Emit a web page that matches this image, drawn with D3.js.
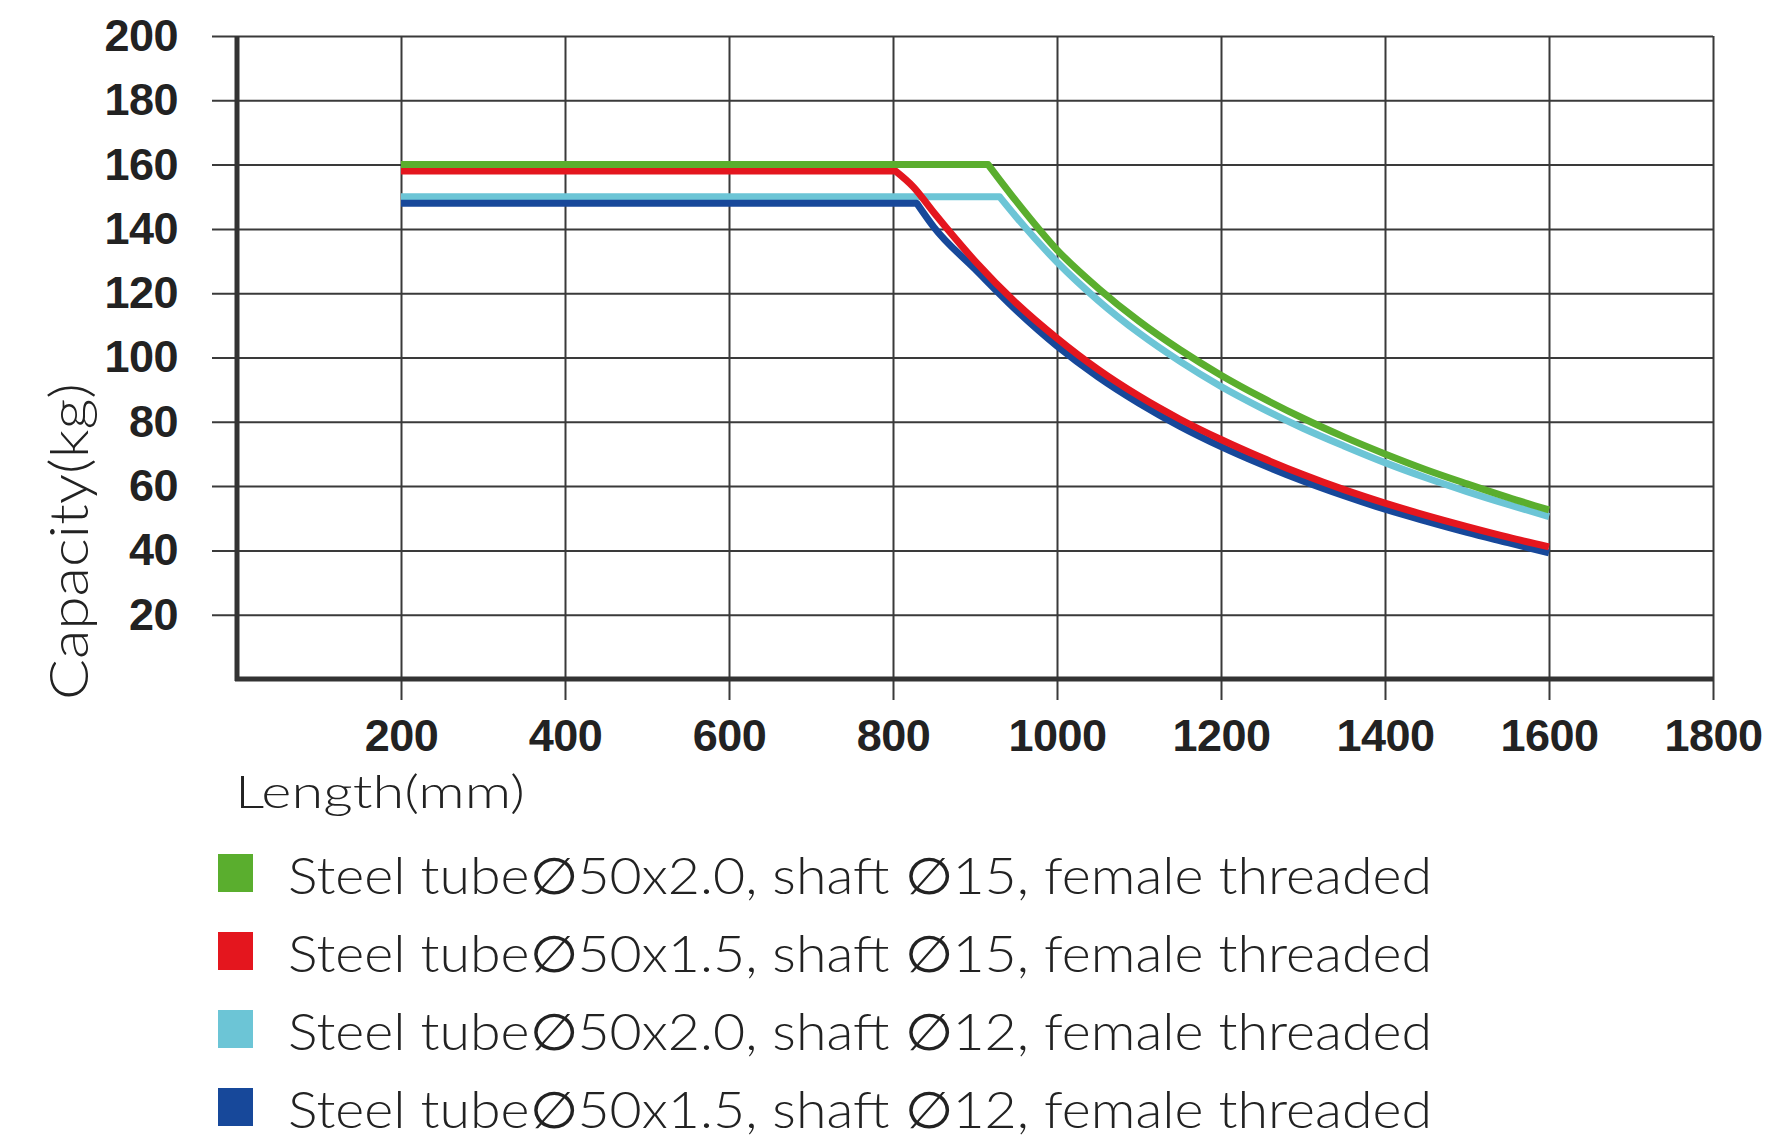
<!DOCTYPE html>
<html>
<head>
<meta charset="utf-8">
<script src="https://cdnjs.cloudflare.com/ajax/libs/d3/7.8.5/d3.min.js"></script>
<style>
  body { margin: 0; background: #fff; }
  .tick text { font-family: "Liberation Sans", Arial, sans-serif; font-weight: bold; fill: #222; }
  .thin { font-family: "Lato", "DejaVu Sans", sans-serif; font-weight: 300; fill: #222; }
</style>
</head>
<body>
<div class="root"></div>
<script>
// lengths in mm, capacity in kg
var lenGreen = [200, 916, 950, 1000, 1050, 1100, 1150, 1200, 1250, 1300, 1350, 1400, 1450, 1500, 1550, 1600];
var capGreen = [160, 160, 148.7, 133.5, 121.6, 111.3, 102.4, 94.5, 87.5, 81.1, 75.3, 70, 65.1, 60.7, 56.5, 52.6];

var lenRed = [200, 803, 825, 850, 900, 950, 1000, 1050, 1100, 1150, 1200, 1250, 1300, 1350, 1400, 1450, 1500, 1550, 1600];
var capRed = [158, 158, 153, 145, 130, 117, 106, 96.3, 88, 80.8, 74.5, 68.8, 63.6, 58.9, 54.7, 50.9, 47.4, 44.1, 41.1];

var lenCyan = [200, 930, 950, 1000, 1050, 1100, 1150, 1200, 1250, 1300, 1350, 1400, 1450, 1500, 1550, 1600];
var capCyan = [150, 150, 143.8, 129.7, 117.8, 107.6, 98.8, 91, 84.2, 78, 72.5, 67.3, 62.6, 58.3, 54.3, 50.5];

var lenBlue = [200, 829, 850, 900, 950, 1000, 1050, 1100, 1150, 1200, 1250, 1300, 1350, 1400, 1450, 1500, 1550, 1600];
var capBlue = [148, 148, 140.5, 127.5, 114.8, 103.6, 94, 85.8, 78.6, 72.3, 66.7, 61.6, 57, 52.8, 49.1, 45.6, 42.4, 39.2];

var xTicks = [200, 400, 600, 800, 1000, 1200, 1400, 1600, 1800];
var yTicks = [20, 40, 60, 80, 100, 120, 140, 160, 180, 200];

var seriesNames = [
  'Steel tube\u220550x2.0, shaft \u220515, female threaded',
  'Steel tube\u220550x1.5, shaft \u220515, female threaded',
  'Steel tube\u220550x2.0, shaft \u220512, female threaded',
  'Steel tube\u220550x1.5, shaft \u220512, female threaded'
];
var seriesColors = ['#5aae2e', '#e4161e', '#6cc5d6', '#17489a'];

var series = [
  {name: seriesNames[0], color: seriesColors[0], pts: d3.zip(lenGreen, capGreen)},
  {name: seriesNames[1], color: seriesColors[1], pts: d3.zip(lenRed, capRed)},
  {name: seriesNames[2], color: seriesColors[2], pts: d3.zip(lenCyan, capCyan)},
  {name: seriesNames[3], color: seriesColors[3], pts: d3.zip(lenBlue, capBlue)}
];

var w = 1766, h = 1148;
var svg = d3.select('.root').append('svg')
  .attr('width', w)
  .attr('height', h);

var x = d3.scaleLinear().domain([0, 1800]).range([237, 1713]);
var y = d3.scaleLinear().domain([0, 200]).range([679, 36]);

// grid via axes
var yAxis = svg.append('g')
  .attr('transform', 'translate(212,0)')
  .call(d3.axisLeft(y).tickValues(yTicks).tickSize(-(1713 - 212)).tickPadding(34).tickSizeOuter(0));
var xAxis = svg.append('g')
  .attr('transform', 'translate(0,700)')
  .call(d3.axisBottom(x).tickValues(xTicks).tickFormat(d3.format('d'))
    .tickSize(-(700 - 36)).tickPadding(19).tickSizeOuter(0));

[yAxis, xAxis].forEach(function(a) {
  a.select('.domain').remove();
  a.selectAll('.tick line').attr('stroke', '#3a3a3a').attr('stroke-width', 2);
  a.selectAll('.tick text').attr('font-size', 45).attr('letter-spacing', -0.5);
});

// thick axis lines
svg.append('line')
  .attr('x1', x(0)).attr('x2', x(0))
  .attr('y1', y(200)).attr('y2', y(0) + 2)
  .attr('stroke', '#333').attr('stroke-width', 5);
svg.append('line')
  .attr('x1', x(0) - 2).attr('x2', x(1800))
  .attr('y1', y(0)).attr('y2', y(0))
  .attr('stroke', '#333').attr('stroke-width', 5);

var flat = d3.line()
  .x(function(d) { return x(d[0]); })
  .y(function(d) { return y(d[1]); });
var curve = d3.line()
  .x(function(d) { return x(d[0]); })
  .y(function(d) { return y(d[1]); })
  .curve(d3.curveMonotoneX);

// draw order: cyan, blue, red, green
[2, 3, 1, 0].forEach(function(i) {
  var p = series[i].pts;
  svg.append('path')
    .attr('fill', 'none')
    .attr('stroke', series[i].color)
    .attr('stroke-width', 7)
    .attr('stroke-linejoin', 'round')
    .attr('d', flat(p.slice(0, 2)) + curve(p.slice(1)).replace(/^M/, 'L'));
});

// axis titles
svg.append('text')
  .attr('class', 'thin')
  .attr('transform', 'translate(88,700) rotate(-90)')
  .attr('font-size', 54)
  .attr('textLength', 317)
  .attr('lengthAdjust', 'spacingAndGlyphs')
  .text('Capacity(kg)');

svg.append('text')
  .attr('class', 'thin')
  .attr('x', 235)
  .attr('y', 808)
  .attr('font-size', 46)
  .attr('textLength', 290)
  .attr('lengthAdjust', 'spacingAndGlyphs')
  .text('Length(mm)');

// legend
var legend = svg.append('g')
  .selectAll('g')
  .data(series)
  .enter().append('g')
    .attr('transform', function(d, i) { return 'translate(0,' + (894 + i * 78) + ')'; });

legend.append('rect')
  .attr('x', 218)
  .attr('y', -40)
  .attr('width', 35)
  .attr('height', 38)
  .attr('fill', function(d) { return d.color; });

legend.append('text')
  .attr('class', 'thin')
  .attr('x', 288)
  .attr('y', 0)
  .attr('font-size', 51)
  .attr('textLength', 1144)
  .attr('lengthAdjust', 'spacingAndGlyphs')
  .text(function(d) { return d.name; });
</script>
</body>
</html>
